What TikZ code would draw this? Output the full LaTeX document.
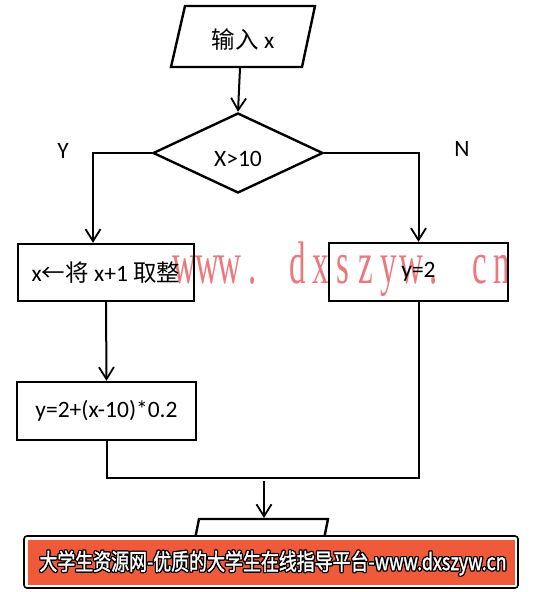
\documentclass[tikz,border=0pt]{standalone}
\usepackage{fontspec}
\setmainfont{Carlito}
\newfontfamily\cjk{Noto Sans CJK SC}
\newfontfamily\cjkb[FakeBold=1.5]{Noto Sans CJK SC}
\newfontfamily\wmfont{Liberation Serif}
\usetikzlibrary{arrows.meta,shapes.geometric}
\definecolor{wm}{RGB}{234,120,124}
\definecolor{banner}{RGB}{238,90,58}
\begin{document}
\begin{tikzpicture}[x=1pt,y=-1pt,line width=2pt,
  font=\fontsize{23.5}{27}\selectfont,
  shp/.style={draw,line width=2.4pt},
  box/.style={shp,rectangle,inner sep=0pt},
  arr/.style={-{Straight Barb[length=12pt,width=15pt,line width=1.8pt]}},
  lbl/.style={inner sep=0pt},
  wmc/.style={text=wm,anchor=base,inner sep=0pt,xscale=0.55,font=\wmfont\fontsize{60}{60}\selectfont},
  btxt/.style={inner sep=0pt,xscale=0.78,font=\cjkb\fontsize{23}{26}\selectfont}]
\useasboundingbox (0,0) rectangle (534,592);
% watermark
\foreach \c/\i in {w/0,w/1,w/2,./3,d/5,x/6,s/7,z/8,y/9,w/10,./11,c/13,n/14}
  \node[wmc] at ({173+22.7*(\i+0.5)},283) {\c};
% input
\draw[shp] (185,6) -- (315,6) -- (302,67) -- (171,67) -- cycle;
\node[lbl,minimum width=131pt,minimum height=61pt] (inp) at (240,36.5) {};
\node[lbl] (inptxt) at (243,40) {{\cjk 输入} x};
% decision
\node[shp,diamond,minimum width=170pt,minimum height=80pt,inner sep=0pt] (dia) at (238,153) {};
\node[lbl] (diatxt) at (238,159) {X>10};
\node[lbl] (Y) at (63,151) {Y};
\node[lbl] (N) at (462,149) {N};
% boxes
\node[box,minimum width=176pt,minimum height=57pt] (b1) at (106,272.5) {x{\cjk ←将} x+1 {\cjk 取整}};
\node[box,minimum width=179pt,minimum height=58pt] (b2) at (418.5,272) {y=2};
\node[box,minimum width=179pt,minimum height=58pt] (b3) at (106.5,411) {y=2+(x-10)*0.2};
% output
\draw[shp] (199,519) -- (328,519) -- (316,579) -- (187,579) -- cycle;
\node[lbl,minimum width=129pt,minimum height=60pt] (out) at (258,549) {};
\coordinate (m) at (264,478);
% connectors
\draw[arr] (inp.south) -- (dia.north);
\draw[arr] (dia.west) -| ([xshift=-13pt]b1.north);
\draw[arr] (dia.east) -| (b2.north);
\draw[arr] (b1.south) -- (b3.north);
\draw (b3.south) |- (m) -| (b2.south);
\draw[arr] ([yshift=-3pt]m) -- (m |- out.north);
% banner
\draw[line width=1.6pt,rounded corners=3pt,fill=white] (24,536) rectangle (518,588);
\fill[banner] (27.5,539.5) rectangle (514.5,584.5);
\foreach \dx/\dy in {-1.2/0,1.2/0,0/-1.2,0/1.2,-1/-1,1/1,-1/1,1/-1}
  \node[btxt,text=black] at ({273+\dx},{563+\dy}) {大学生资源网-优质的大学生在线指导平台-www.dxszyw.cn};
\node[btxt,text=white] (ban) at (273,563) {大学生资源网-优质的大学生在线指导平台-www.dxszyw.cn};
\end{tikzpicture}
\end{document}
